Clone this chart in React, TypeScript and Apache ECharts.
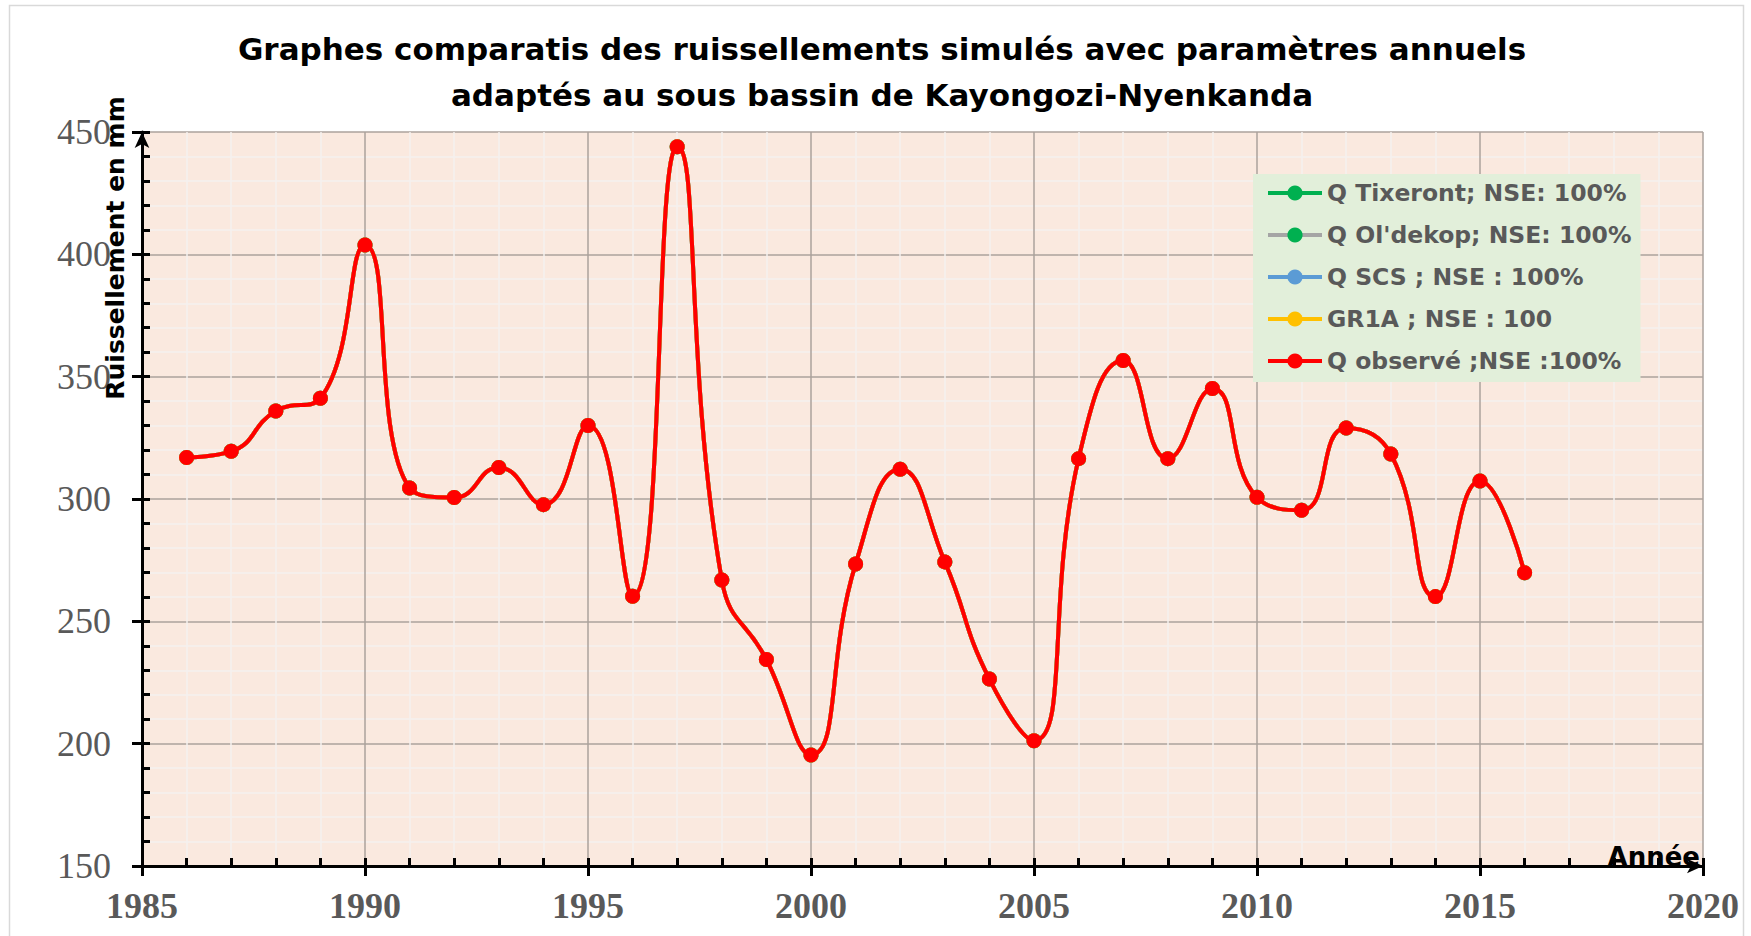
import React, { useEffect, useRef } from "react";
import * as echarts from "echarts";

const years = [1986, 1987, 1988, 1989, 1990, 1991, 1992, 1993, 1994, 1995, 1996, 1997, 1998, 1999, 2000, 2001, 2002, 2003, 2004, 2005, 2006, 2007, 2008, 2009, 2010, 2011, 2012, 2013, 2014, 2015, 2016];
const qObserve = [317.0, 319.5, 336.0, 341.2, 403.8, 304.5, 300.6, 312.9, 297.7, 330.0, 260.3, 444.0, 266.9, 234.4, 195.4, 273.4, 312.2, 274.3, 226.4, 201.2, 316.5, 356.6, 316.5, 345.2, 300.7, 295.4, 329.0, 318.4, 260.1, 307.4, 269.9];
const qTixeront = [...qObserve];
const qOldekop = [...qObserve];
const qSCS = [...qObserve];
const gr1a = [...qObserve];

const seriesNames = ["Q Tixeront; NSE: 100%", "Q Ol'dekop; NSE: 100%", "Q SCS ; NSE : 100%", "GR1A ; NSE : 100", "Q observé ;NSE :100%"];
const seriesValues = [qTixeront, qOldekop, qSCS, gr1a, qObserve];
const lineColors = ["#00B050", "#A5A5A5", "#5B9BD5", "#FFC000", "#FF0000"];
const markerColors = ["#00B050", "#00B050", "#5B9BD5", "#FFC000", "#FF0000"];

const titleLines = [
  "Graphes comparatis des ruissellements simulés avec paramètres annuels",
  "adaptés au sous bassin de Kayongozi-Nyenkanda",
];
const yAxisTitle = "Ruissellement en mm";
const xAxisTitle = "Année";

export default function App() {
  const ref = useRef<HTMLDivElement>(null);
  useEffect(() => {
    if (!ref.current) return;
    const chart = echarts.init(ref.current, null, { renderer: "svg" });
    const gridPos = { left: 142, right: 48, top: 132, bottom: 70 };
    const series = seriesNames.map((name, i) => ({
      name,
      type: "line",
      data: years.map((y, k) => [y, seriesValues[i][k]]),
      smooth: 0.5,
      symbol: "circle",
      symbolSize: 15,
      z: 3 + i,
      lineStyle: { color: lineColors[i], width: 4 },
      itemStyle: { color: markerColors[i] },
    }));
    const option: any = {
      animation: false,
      backgroundColor: "#FFFFFF",
      grid: { ...gridPos, show: true, backgroundColor: "#FAE9DF", borderWidth: 0 },
      legend: {
        orient: "vertical",
        left: 1253,
        top: 174,
        backgroundColor: "#E2EFDA",
        padding: [7, 9, 9, 13],
        itemGap: 18,
        itemWidth: 54,
        itemHeight: 19,
        lineStyle: { width: 4 },
        textStyle: { fontFamily: "DejaVu Sans", fontWeight: "bold", fontSize: 23.5, color: "#595959" },
        data: seriesNames,
      },
      xAxis: [
        {
          type: "value",
          min: 1985,
          max: 2020,
          interval: 5,
          axisLine: { show: true, onZero: false, lineStyle: { color: "#000", width: 3 }, symbol: ["none", "arrow"], symbolSize: [11, 16] },
          axisTick: { show: true, inside: false, length: 10, lineStyle: { color: "#000", width: 3 } },
          minorTick: { show: false },
          axisLabel: { fontFamily: "Liberation Serif", fontWeight: "bold", fontSize: 36, color: "#595959", margin: 22, formatter: (v: number) => String(v) },
          splitLine: { show: true, lineStyle: { color: "#ABA29C", width: 1.5 } },
          minorSplitLine: { show: true, lineStyle: { color: "#F4F1EF", width: 1.5 } },
        },
        {
          type: "value",
          min: 1985,
          max: 2020,
          interval: 5,
          position: "bottom",
          axisLine: { show: false },
          axisTick: { show: true, inside: true, length: 8, lineStyle: { color: "#000", width: 3 } },
          minorTick: { show: true, splitNumber: 5, length: 8, lineStyle: { color: "#000", width: 3 } },
          axisLabel: { show: false },
          splitLine: { show: false },
        },
      ],
      yAxis: [
        {
          type: "value",
          min: 150,
          max: 450,
          interval: 50,
          axisLine: { show: true, onZero: false, lineStyle: { color: "#000", width: 3 }, symbol: ["none", "arrow"], symbolSize: [11, 16] },
          axisTick: { show: true, inside: false, length: 10, lineStyle: { color: "#000", width: 3 } },
          minorTick: { show: false },
          axisLabel: { fontFamily: "Liberation Serif", fontSize: 36, color: "#595959", margin: 31 },
          splitLine: { show: true, lineStyle: { color: "#ABA29C", width: 1.5 } },
          minorSplitLine: { show: true, lineStyle: { color: "#F4F1EF", width: 1.5 } },
        },
        {
          type: "value",
          min: 150,
          max: 450,
          interval: 50,
          position: "left",
          axisLine: { show: false },
          axisTick: { show: true, inside: true, length: 8, lineStyle: { color: "#000", width: 3 } },
          minorTick: { show: true, splitNumber: 5, length: 8, lineStyle: { color: "#000", width: 3 } },
          axisLabel: { show: false },
          splitLine: { show: false },
        },
      ],
      series,
      graphic: [
        {
          type: "rect",
          shape: { x: 9.5, y: 5.5, width: 1734, height: 940 },
          style: { fill: "none", stroke: "#D9D9D9", lineWidth: 1.5 },
          silent: true,
        },
        {
          type: "text",
          x: 882,
          y: 49,
          style: { text: titleLines[0], fontFamily: "DejaVu Sans", fontWeight: "bold", fontSize: 31, fill: "#000", textAlign: "center", textVerticalAlign: "middle" },
        },
        {
          type: "text",
          x: 882,
          y: 95,
          style: { text: titleLines[1], fontFamily: "DejaVu Sans", fontWeight: "bold", fontSize: 31, fill: "#000", textAlign: "center", textVerticalAlign: "middle" },
        },
        {
          type: "text",
          x: 115,
          y: 248,
          rotation: Math.PI / 2,
          style: { text: yAxisTitle, fontFamily: "DejaVu Sans", fontWeight: "bold", fontSize: 25, fill: "#000", textAlign: "center", textVerticalAlign: "middle" },
          z: 10,
        },
        {
          type: "text",
          x: 1700,
          y: 870,
          style: { text: xAxisTitle, fontFamily: "DejaVu Sans", fontWeight: "bold", fontSize: 26, fill: "#000", textAlign: "right", textVerticalAlign: "bottom" },
          z: 10,
        },
      ],
    };
    chart.setOption(option);
    return () => chart.dispose();
  }, []);
  return <div ref={ref} style={{ position: "absolute", left: 0, top: 0, width: 1751, height: 936 }} />;
}
